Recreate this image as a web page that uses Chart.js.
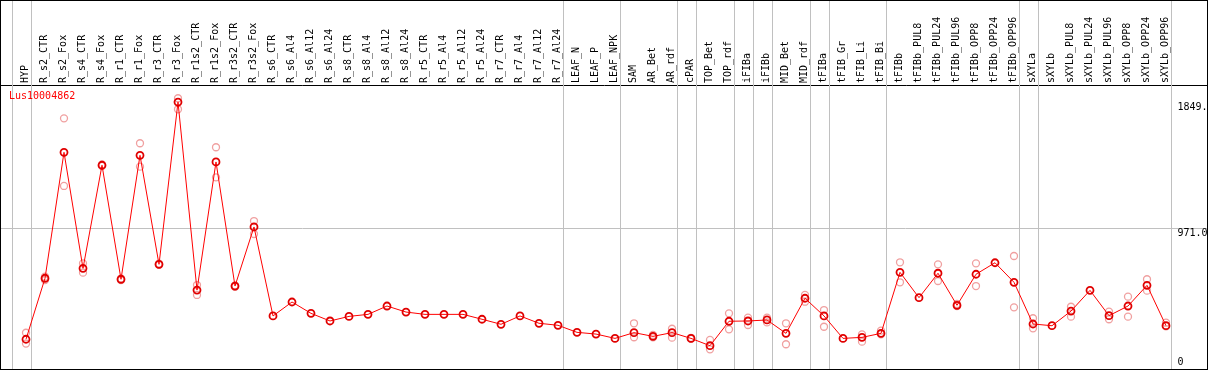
<!DOCTYPE html>
<html lang="en">
<head>
    <meta charset="UTF-8">
    <title>Lus10004862 expression</title>
    <script src="https://cdn.jsdelivr.net/npm/chart.js@4.4.1/dist/chart.umd.min.js"></script>
    <style>
        html, body { margin: 0; padding: 0; background: #fff; }
        .frame { position: absolute; left: 0; top: 0; width: 1206px; height: 368px; border: 1px solid #000; }
        canvas { display: block; }
    </style>
</head>
<body>
    <div class="frame"><canvas id="chart" width="1206" height="368"></canvas></div>

    <script>
        const geneName = 'Lus10004862';

        const categories = [
            'HYP', 'R_s2_CTR', 'R_s2_Fox', 'R_s4_CTR', 'R_s4_Fox', 'R_r1_CTR', 'R_r1_Fox', 'R_r3_CTR', 'R_r3_Fox',
            'R_r1s2_CTR', 'R_r1s2_Fox', 'R_r3s2_CTR', 'R_r3s2_Fox', 'R_s6_CTR', 'R_s6_Al4', 'R_s6_Al12', 'R_s6_Al24',
            'R_s8_CTR', 'R_s8_Al4', 'R_s8_Al12', 'R_s8_Al24', 'R_r5_CTR', 'R_r5_Al4', 'R_r5_Al12', 'R_r5_Al24',
            'R_r7_CTR', 'R_r7_Al4', 'R_r7_Al12', 'R_r7_Al24', 'LEAF_N', 'LEAF_P', 'LEAF_NPK', 'SAM', 'AR_Bet', 'AR_rdf',
            'cPAR', 'TOP_Bet', 'TOP_rdf', 'iFIBa', 'iFIBb', 'MID_Bet', 'MID_rdf', 'tFIBa', 'tFIB_Gr', 'tFIB_Li', 'tFIB_Bi',
            'tFIBb', 'tFIBb_PUL8', 'tFIBb_PUL24', 'tFIBb_PUL96', 'tFIBb_OPP8', 'tFIBb_OPP24', 'tFIBb_OPP96',
            'sXYLa', 'sXYLb', 'sXYLb_PUL8', 'sXYLb_PUL24', 'sXYLb_PUL96', 'sXYLb_OPP8', 'sXYLb_OPP24', 'sXYLb_OPP96'
        ];

        // mean expression per sample
        const meanValues = [
            200, 624, 1500, 693, 1410, 617, 1479, 721, 1849,
            542, 1433, 570, 981, 362, 459, 380, 327,
            359, 373, 431, 389, 373, 373, 373, 339,
            304, 362, 311, 297, 248, 236, 206, 246, 220, 246,
            206, 155, 325, 327, 334, 241, 485, 362, 206, 213, 241,
            665, 489, 659, 436, 652, 732, 596,
            306, 294, 396, 540, 364, 431, 575, 294
        ];

        // replicate measurements (null where hidden behind the mean)
        const repHigh = [
            245, 612, 1736, 728, 1415, 612, 1563, 725, 1876,
            577, 1535, 575, 1022, null, null, null, null,
            null, null, null, null, null, null, null, null,
            null, null, null, null, null, null, null, 311, 230, 273,
            210, 195, 380, 350, 350, 311, 508, 403, null, 234, 260,
            735, null, 721, 445, 728, null, 779,
            346, null, 426, null, 392, 496, 617, 315
        ];
        const repLow = [
            170, 635, 1266, 663, 1405, 622, 1400, 718, 1799,
            508, 1326, 565, 932, null, null, null, null,
            null, null, null, null, null, null, null, null,
            null, null, null, null, null, null, null, 214, 213, 211,
            203, 130, 269, 299, 317, 165, 461, 287, null, 183, 234,
            596, null, 605, 430, 570, null, 422,
            276, null, 357, null, 339, 357, 538, 290
        ];

        // last category index of each sample group (-1 = left edge)
        const groupEnds = [-1, 0, 28, 31, 34, 35, 37, 38, 39, 41, 42, 45, 52, 53, 60];

        const yTicks = [0, 971, 1849];
        const yTickLabels = ['0', '971.0', '1849.'];

        const toPoints = (arr) => arr.map((v, i) => ({ x: i, y: v })).filter(p => p.y !== null);
        const monoFont = { family: 'DejaVu Sans Mono', size: 10 };

        const decorations = {
            id: 'decorations',
            beforeDatasetsDraw(chart) {
                const { ctx, scales: { x }, height } = chart;
                ctx.save();
                ctx.strokeStyle = '#c0c0c0';
                ctx.lineWidth = 1;
                groupEnds.forEach(idx => {
                    const px = Math.round(x.getPixelForValue(idx + 0.25)) + 0.5;
                    ctx.beginPath();
                    ctx.moveTo(px, 0);
                    ctx.lineTo(px, height);
                    ctx.stroke();
                });
                ctx.restore();
            },
            afterDraw(chart) {
                const { ctx, scales: { x, y }, chartArea } = chart;
                ctx.save();
                ctx.font = '10px "DejaVu Sans Mono"';
                ctx.fillStyle = '#000';
                ctx.textAlign = 'left';
                ctx.textBaseline = 'middle';
                const lx = x.getPixelForValue(60.6);
                yTicks.forEach((v, i) => {
                    const py = Math.min(y.getPixelForValue(v) + 5, chartArea.bottom - 6);
                    ctx.fillText(yTickLabels[i], lx, py);
                });
                ctx.fillStyle = '#ff0000';
                ctx.fillText(geneName, 8, chartArea.top + 11);
                ctx.restore();
            }
        };

        new Chart(document.getElementById('chart'), {
            type: 'line',
            data: {
                datasets: [
                    {
                        data: toPoints(meanValues),
                        borderColor: '#ff0000',
                        borderWidth: 1,
                        pointRadius: 3.5,
                        pointBorderWidth: 1.8,
                        pointBorderColor: '#e00000',
                        pointBackgroundColor: 'rgba(0,0,0,0)',
                        tension: 0
                    },
                    {
                        data: toPoints(repHigh),
                        showLine: false,
                        pointRadius: 3.5,
                        pointBorderWidth: 1.3,
                        pointBorderColor: '#f0a0a0',
                        pointBackgroundColor: 'rgba(0,0,0,0)'
                    },
                    {
                        data: toPoints(repLow),
                        showLine: false,
                        pointRadius: 3.5,
                        pointBorderWidth: 1.3,
                        pointBorderColor: '#f0a0a0',
                        pointBackgroundColor: 'rgba(0,0,0,0)'
                    }
                ]
            },
            options: {
                responsive: false,
                animation: false,
                layout: { autoPadding: false, padding: { top: 0, left: 0, right: 0, bottom: 1 } },
                plugins: { legend: { display: false }, tooltip: { enabled: false } },
                scales: {
                    x: {
                        type: 'linear',
                        position: 'top',
                        min: -25 / 19,
                        max: (1206 - 25) / 19,
                        afterBuildTicks: (scale) => { scale.ticks = categories.map((c, i) => ({ value: i })); },
                        afterFit: (scale) => {
                            scale.height = 84;
                            scale.paddingLeft = 0;
                            scale.paddingRight = 0;
                        },
                        grid: { display: false, drawTicks: false },
                        border: { display: true, color: '#000', width: 1 },
                        ticks: {
                            autoSkip: false,
                            minRotation: 90,
                            maxRotation: 90,
                            padding: 2,
                            labelOffset: 11,
                            color: '#000',
                            font: monoFont,
                            callback: (v) => categories[v]
                        }
                    },
                    y: {
                        position: 'right',
                        min: 0,
                        max: 1968,
                        afterBuildTicks: (scale) => { scale.ticks = yTicks.map(v => ({ value: v })); },
                        afterFit: (scale) => {
                            scale.width = 0;
                            scale.paddingTop = 0;
                            scale.paddingBottom = 0;
                        },
                        ticks: { display: false },
                        border: { display: false },
                        grid: {
                            drawTicks: false,
                            color: (ctx) => (ctx.tick && ctx.tick.value === 971 ? '#c0c0c0' : 'rgba(0,0,0,0)')
                        }
                    }
                }
            },
            plugins: [decorations]
        });
    </script>
</body>
</html>
